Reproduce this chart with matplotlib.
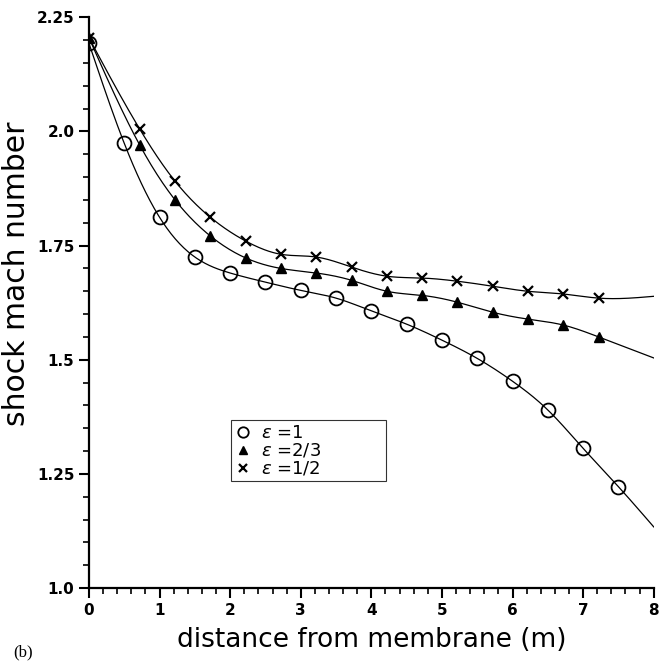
import numpy as np
import matplotlib
matplotlib.use("Agg")
import matplotlib.pyplot as plt
from matplotlib.ticker import FixedLocator, MultipleLocator

# epsilon = 1 (circles)
x_e1 = [0.0, 0.5, 1.0, 1.5, 2.0, 2.5, 3.0, 3.5, 4.0, 4.5, 5.0, 5.5, 6.0, 6.5, 7.0, 7.5]
m_e1 = [2.193, 1.974, 1.812, 1.725, 1.690, 1.670, 1.652, 1.635, 1.607, 1.578,
        1.543, 1.503, 1.453, 1.390, 1.306, 1.222]
end_e1 = 1.134

# epsilon = 2/3 (triangles)
x_e23 = [0.0, 0.72, 1.22, 1.72, 2.22, 2.72, 3.22, 3.72, 4.22, 4.72, 5.22, 5.72, 6.22, 6.72, 7.22]
m_e23 = [2.205, 1.970, 1.850, 1.771, 1.723, 1.700, 1.690, 1.674, 1.650, 1.641,
         1.626, 1.604, 1.589, 1.576, 1.550]
end_e23 = 1.504

# epsilon = 1/2 (crosses)
x_e12 = [0.0, 0.72, 1.22, 1.72, 2.22, 2.72, 3.22, 3.72, 4.22, 4.72, 5.22, 5.72, 6.22, 6.72, 7.22]
m_e12 = [2.205, 2.005, 1.891, 1.812, 1.760, 1.731, 1.725, 1.703, 1.683, 1.679,
         1.672, 1.661, 1.650, 1.644, 1.635]
end_e12 = 1.639

labels = [r"$\varepsilon$ =1", r"$\varepsilon$ =2/3", r"$\varepsilon$ =1/2"]
x_end = 8.0


def spline(xs, ys, n=400):
    # natural cubic spline through the points, only used to draw a smooth line
    xs = np.asarray(xs, float)
    ys = np.asarray(ys, float)
    k = len(xs)
    h = np.diff(xs)
    A = np.zeros((k, k))
    b = np.zeros(k)
    A[0, 0] = A[-1, -1] = 1
    for i in range(1, k - 1):
        A[i, i - 1] = h[i - 1]
        A[i, i] = 2 * (h[i - 1] + h[i])
        A[i, i + 1] = h[i]
        b[i] = 3 * ((ys[i + 1] - ys[i]) / h[i] - (ys[i] - ys[i - 1]) / h[i - 1])
    c = np.linalg.solve(A, b)
    xx = np.linspace(xs[0], xs[-1], n)
    idx = np.clip(np.searchsorted(xs, xx) - 1, 0, k - 2)
    dx = xx - xs[idx]
    bb = (ys[idx + 1] - ys[idx]) / h[idx] - h[idx] * (2 * c[idx] + c[idx + 1]) / 3
    dd = (c[idx + 1] - c[idx]) / (3 * h[idx])
    return xx, ys[idx] + bb * dx + c[idx] * dx ** 2 + dd * dx ** 3


fig = plt.figure(figsize=(6.59, 6.66), dpi=100)
ax = fig.add_axes([0.135, 0.117, 0.857, 0.857])

series = [
    (x_e1, m_e1, end_e1, dict(marker="o", mfc="none", ms=10, mew=1.3)),
    (x_e23, m_e23, end_e23, dict(marker="^", mfc="black", ms=7, mew=1.0)),
    (x_e12, m_e12, end_e12, dict(marker="x", ms=7, mew=1.6)),
]

handles = []
for (xs, ys, ye, mk), lab in zip(series, labels):
    sx, sy = spline(list(xs) + [x_end], list(ys) + [ye])
    ax.plot(sx, sy, color="black", lw=0.9)
    h, = ax.plot(xs, ys, ls="none", color="black", mec="black", label=lab, **mk)
    handles.append(h)

ax.set_xlim(0, 8)
ax.set_ylim(1.0, 2.25)
for s in ["top", "right"]:
    ax.spines[s].set_visible(False)
for s in ["left", "bottom"]:
    ax.spines[s].set_linewidth(1.6)

ax.xaxis.set_major_locator(MultipleLocator(1))
ax.xaxis.set_minor_locator(MultipleLocator(0.2))
ax.yaxis.set_major_locator(FixedLocator([1.0, 1.25, 1.5, 1.75, 2.0, 2.25]))
ax.yaxis.set_minor_locator(MultipleLocator(0.05))
ax.set_yticklabels(["1.0", "1.25", "1.5", "1.75", "2.0", "2.25"])
ax.tick_params(which="major", length=7, width=1.5, labelsize=11, direction="out")
ax.tick_params(which="minor", length=4, width=1.2, direction="out")
for t in ax.get_xticklabels() + ax.get_yticklabels():
    t.set_fontweight("bold")

ax.set_xlabel("distance from membrane (m)", fontsize=19, labelpad=7)
ax.set_ylabel("shock mach number", fontsize=21.5)
ax.yaxis.set_label_coords(-0.102, 0.55)

leg = ax.legend(handles=handles, loc="upper left",
                bbox_to_anchor=(0.251, 0.201, 0.275, 0.093), mode="expand",
                fontsize=13, frameon=True, fancybox=False, handlelength=1.0,
                handletextpad=0.5, labelspacing=0.0, borderpad=0.2,
                borderaxespad=0, markerscale=0.75)
leg.get_frame().set_edgecolor("black")
leg.get_frame().set_linewidth(0.8)

fig.text(0.02, 0.015, "(b)", fontsize=12, family="Liberation Serif")

fig.savefig("out.png", dpi=100)
